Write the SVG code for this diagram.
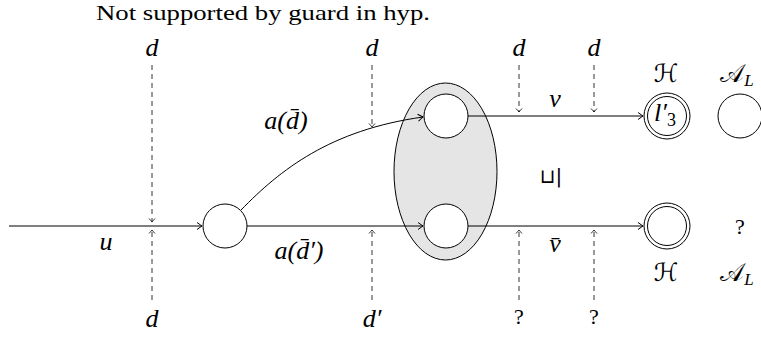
<svg xmlns="http://www.w3.org/2000/svg" width="761" height="337" viewBox="0 0 761 337">
<defs>
<marker id="arr" markerUnits="userSpaceOnUse" markerWidth="12" markerHeight="12" viewBox="-6 -6 12 12" refX="0" refY="0" orient="auto" overflow="visible">
<path d="M -5 -3.5 Q -1.2 -0.8 0 0 Q -1.2 0.8 -5 3.5" fill="none" stroke="#000" stroke-width="1"/>
</marker>
<marker id="darr" markerUnits="userSpaceOnUse" markerWidth="10" markerHeight="10" viewBox="-5 -5 10 10" refX="0" refY="0" orient="auto" overflow="visible">
<path d="M -3.5 -3 Q -0.8 -0.6 0 0 Q -0.8 0.6 -3.5 3" fill="none" stroke="#000" stroke-width="0.8"/>
</marker>
</defs>
<style>
.st{fill:#fff;stroke:#000;stroke-width:1}
.e{fill:none;stroke:#000;stroke-width:1}
.dsh{fill:none;stroke:#000;stroke-width:0.8;stroke-dasharray:5 4}
.m{font-family:"Liberation Serif","DejaVu Serif",serif;font-style:italic;font-size:26px;text-anchor:middle;fill:#000}
.r{font-family:"Liberation Serif","DejaVu Serif",serif;font-size:22px;text-anchor:middle;fill:#000}
.c{font-family:"DejaVu Serif","DejaVu Sans",serif;font-size:25px;text-anchor:middle;fill:#000}
.sub{font-family:"Liberation Serif",serif;font-style:italic;font-size:17px}
</style>
<text class="r" x="263" y="20" font-size="19" textLength="334" lengthAdjust="spacingAndGlyphs">Not supported by guard in hyp.</text>

<g id="group">
<ellipse cx="445.5" cy="171.5" rx="51.5" ry="88.5" fill="#e5e5e5" stroke="#000" stroke-width="1"/>
</g>
<g id="s0"><circle class="st" cx="225" cy="226" r="22"/></g>
<g id="s1"><circle class="st" cx="446" cy="116" r="22"/></g>
<g id="s2"><circle class="st" cx="446" cy="226" r="22"/></g>
<g id="h1"><circle class="st" cx="667" cy="116" r="23"/><circle class="st" cx="667" cy="116" r="19.5"/>
<text class="m" x="665" y="121">l′<tspan font-style="normal" font-size="18" dy="5">3</tspan></text></g>
<g id="a1"><circle class="st" cx="740" cy="116" r="22"/></g>
<g id="h2"><circle class="st" cx="667" cy="226" r="23"/><circle class="st" cx="667" cy="226" r="19.5"/></g>

<g id="connectors">
<line class="e" x1="9" y1="226" x2="202" y2="226" marker-end="url(#arr)"/>
<path class="e" d="M 241 210 C 280 170, 330 130, 423 117" marker-end="url(#arr)"/>
<line class="e" x1="247" y1="226" x2="423" y2="226" marker-end="url(#arr)"/>
<line class="e" x1="468" y1="116" x2="643" y2="116" marker-end="url(#arr)"/>
<line class="e" x1="468" y1="226" x2="643" y2="226" marker-end="url(#arr)"/>
<line class="dsh" x1="152" y1="65" x2="152" y2="222" marker-end="url(#darr)"/>
<line class="dsh" x1="152" y1="300" x2="152" y2="230" marker-end="url(#darr)"/>
<line class="dsh" x1="372" y1="65" x2="372" y2="127" marker-end="url(#darr)"/>
<line class="dsh" x1="372" y1="300" x2="372" y2="230" marker-end="url(#darr)"/>
<line class="dsh" x1="519" y1="65" x2="519" y2="112" marker-end="url(#darr)"/>
<line class="dsh" x1="519" y1="300" x2="519" y2="230" marker-end="url(#darr)"/>
<line class="dsh" x1="594" y1="65" x2="594" y2="112" marker-end="url(#darr)"/>
<line class="dsh" x1="594" y1="300" x2="594" y2="230" marker-end="url(#darr)"/>
</g>

<g id="labels">
<text class="m" x="152" y="56">d</text>
<text class="m" x="372" y="56">d</text>
<text class="m" x="519" y="56">d</text>
<text class="m" x="594" y="56">d</text>
<text class="m" x="152" y="327">d</text>
<text class="m" x="372" y="327">d′</text>
<text class="r" x="519" y="324">?</text>
<text class="r" x="594" y="324">?</text>
<text class="m" x="106" y="250">u</text>
<text class="m" x="286" y="129">a(d̄)</text>
<text class="m" x="299" y="259">a(d̄′)</text>
<text class="m" x="555" y="107">v</text>
<text class="m" x="555" y="252">v̄</text>
<text class="c" x="666" y="82">ℋ</text>
<text class="c" x="737" y="82">𝒜<tspan class="sub" dy="4">L</tspan></text>
<text class="c" x="666" y="281">ℋ</text>
<text class="c" x="737" y="281">𝒜<tspan class="sub" dy="4">L</tspan></text>
<text class="r" x="740" y="234">?</text>
<text font-family="DejaVu Sans,sans-serif" font-size="20" fill="#000" x="551" y="183" text-anchor="middle">⊔|</text>
</g>
</svg>
